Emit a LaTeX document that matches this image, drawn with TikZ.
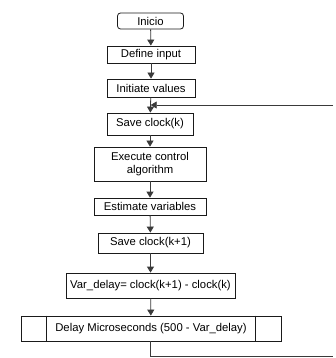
\documentclass[tikz,border=0pt]{standalone}
\usepackage{fontspec}
\setmainfont{Liberation Sans}
\usepackage{tikz}
\usetikzlibrary{arrows.meta,positioning,calc}
\definecolor{ink}{HTML}{1A1A1A}
\definecolor{wire}{HTML}{3A3A3A}

\tikzset{
  stepbox/.style={draw=ink,thick,fill=white,inner sep=1pt,align=center,
    font=\fontsize{11.3}{13}\selectfont},
  flow/.style={-{Triangle[length=6pt,width=7pt]},wire,thick}
}

\begin{document}
\begin{tikzpicture}[x=1pt,y=-1pt]
  \useasboundingbox (0,0) rectangle (336,358);

  \node[stepbox,rounded corners=3pt,minimum width=66pt,minimum height=16pt] (inicio) at (150.5,21) {Inicio};
  \node[stepbox,minimum width=88pt,minimum height=17pt] (define) at (151,54.5) {Define input};
  \node[stepbox,minimum width=88pt,minimum height=18pt] (init) at (151,88) {Initiate values};
  \node[stepbox,minimum width=86pt,minimum height=22pt] (save) at (150,124) {Save clock(k)};
  \node[stepbox,minimum width=112pt,minimum height=34pt] (exec) at (150,164) {Execute control\\algorithm};
  \node[stepbox,minimum width=112pt,minimum height=17pt] (estim) at (150,206.5) {Estimate variables};
  \node[stepbox,minimum width=105pt,minimum height=20pt] (savenext) at (150.5,243) {Save clock(k+1)};
  \node[stepbox,minimum width=169pt,minimum height=25pt] (vardelay) at (150.5,285.5) {Var\_delay= clock(k+1) - clock(k)};
  \node[stepbox,minimum width=260pt,minimum height=25pt] (delay) at (151,328.5) {Delay Microseconds (500 - Var\_delay)};
  \draw[ink,thick] ([xshift=26pt]delay.north west) -- ([xshift=26pt]delay.south west);
  \draw[ink,thick] ([xshift=-26pt]delay.north east) -- ([xshift=-26pt]delay.south east);

  \coordinate (loopin) at (150.7,105);
  \coordinate (looptop) at (333,105);
  \coordinate (loopdown) at (150.7,356);
  \coordinate (loopbot) at (333,356);

  \draw[flow] (inicio) -- (define);
  \draw[flow] (define) -- (init);
  \draw[flow] (init) -- (save);
  \draw[flow] (save) -- (exec);
  \draw[flow] (exec) -- (estim);
  \draw[flow] (estim) -- (savenext);
  \draw[flow] (savenext) -- (vardelay);
  \draw[flow] (vardelay) -- (delay);
  \draw[wire,thick] (delay.south -| loopdown) -- (loopdown) -- (loopbot);
  \draw[flow] (looptop) -- (loopin);
\end{tikzpicture}
\end{document}
